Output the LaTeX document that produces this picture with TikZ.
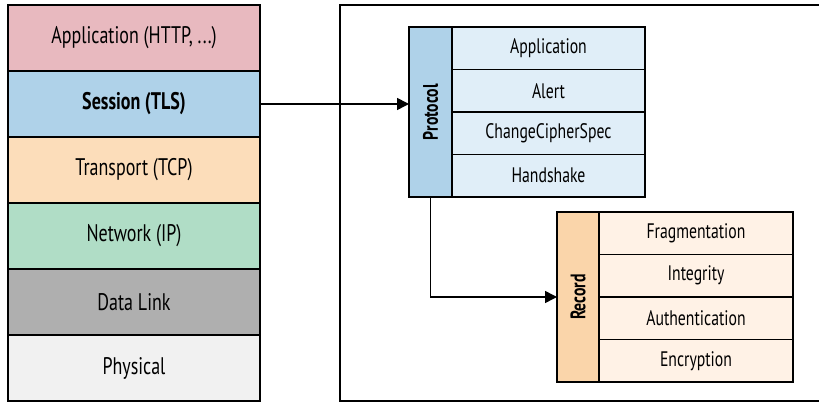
\documentclass[tikz,border=0pt]{standalone}
\usepackage{fontspec}
\setmainfont[FakeStretch=0.75]{PT Sans}
\usetikzlibrary{arrows.meta}
\definecolor{cApp}{HTML}{E8B9BF}
\definecolor{cSes}{HTML}{AFD2E9}
\definecolor{cTra}{HTML}{FCDDBA}
\definecolor{cNet}{HTML}{B0DDC6}
\definecolor{cDat}{HTML}{AFAFAF}
\definecolor{cPhy}{HTML}{F1F1F1}
\definecolor{cProL}{HTML}{AFD2E9}
\definecolor{cProR}{HTML}{E0EEF8}
\definecolor{cRecL}{HTML}{FAD5AA}
\definecolor{cRecR}{HTML}{FFF2E6}
\tikzset{
  box/.style={draw=black, line width=1.6pt, inner sep=0pt, outer sep=0pt, anchor=north west},
  layer/.style={box, minimum width=252pt, minimum height=66pt, font=\fontsize{24}{28}\selectfont},
  vlabel/.style={box, minimum width=43pt, minimum height=170pt},
  vtext/.style={rotate=90, font=\bfseries\fontsize{21}{24}\selectfont},
  row/.style={box, minimum height=42.5pt, font=\fontsize{21}{24}\selectfont},
  conn/.style={line width=1.6pt, -{Triangle[length=12pt,width=12pt]}}
}
\begin{document}
\begin{tikzpicture}[x=1pt,y=-1pt]
\useasboundingbox (0,0) rectangle (819,403);
\node[box, minimum width=520pt, minimum height=396pt] (frame) at (340,5) {};
\node[layer, fill=cApp] (app) at (8,5) {Application (HTTP, ...)};
\node[layer, fill=cSes, font=\bfseries\fontsize{24}{28}\selectfont] (ses) at (8,71) {Session (TLS)};
\node[layer, fill=cTra] (tra) at (8,137) {Transport (TCP)};
\node[layer, fill=cNet] (net) at (8,203) {Network (IP)};
\node[layer, fill=cDat] (dat) at (8,269) {Data Link};
\node[layer, fill=cPhy] (phy) at (8,335) {Physical};
% Protocol
\node[vlabel, fill=cProL] (prot) at (409,27) {};
\node[vtext] (prott) at (prot.center) {Protocol};
\node[row, fill=cProR, minimum width=193pt] (p1) at (452,27) {Application};
\node[row, fill=cProR, minimum width=193pt] (p2) at (452,69.5) {Alert};
\node[row, fill=cProR, minimum width=193pt] (p3) at (452,112) {ChangeCipherSpec};
\node[row, fill=cProR, minimum width=193pt] (p4) at (452,154.5) {Handshake};
% Record
\node[vlabel, fill=cRecL, minimum width=42pt] (rec) at (557,212) {};
\node[vtext] (rect) at (rec.center) {Record};
\node[row, fill=cRecR, minimum width=194pt] (r1) at (599,212) {Fragmentation};
\node[row, fill=cRecR, minimum width=194pt] (r2) at (599,254.5) {Integrity};
\node[row, fill=cRecR, minimum width=194pt] (r3) at (599,297) {Authentication};
\node[row, fill=cRecR, minimum width=194pt] (r4) at (599,339.5) {Encryption};
\draw[conn] (ses.east) -- (ses.east -| prot.west);
\draw[conn] (prot.south) |- (rec.west);
\end{tikzpicture}
\end{document}
